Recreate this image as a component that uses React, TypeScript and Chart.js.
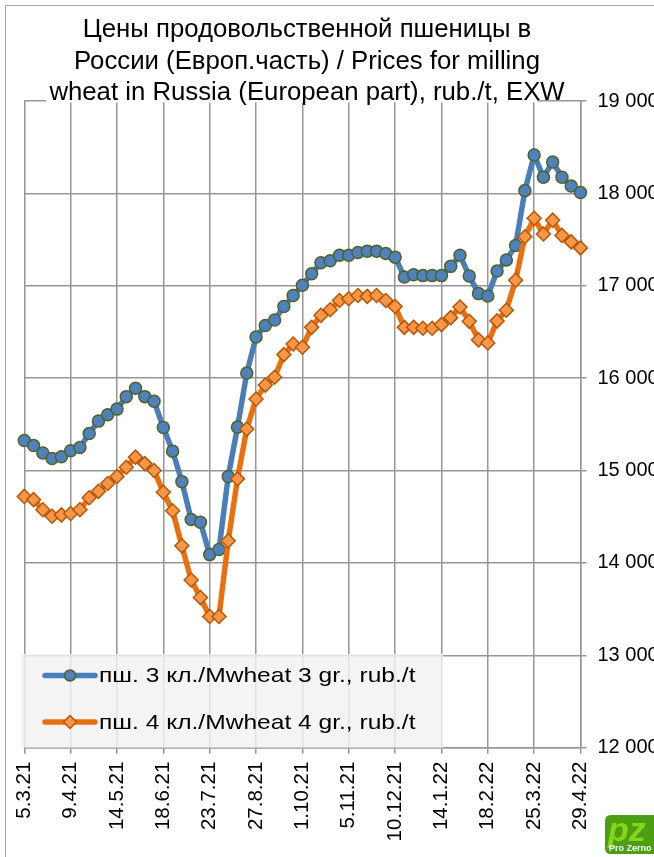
import React, { useEffect, useRef } from 'react';
import { Chart, registerables } from 'chart.js';

Chart.register(...registerables);

// ---- data ----
const categories: string[] = [
  '5.3.21', '12.3.21', '19.3.21', '26.3.21', '2.4.21', '9.4.21', '16.4.21', '23.4.21', '30.4.21', '7.5.21',
  '14.5.21', '21.5.21', '28.5.21', '4.6.21', '11.6.21', '18.6.21', '25.6.21', '2.7.21', '9.7.21', '16.7.21',
  '23.7.21', '30.7.21', '6.8.21', '13.8.21', '20.8.21', '27.8.21', '3.9.21', '10.9.21', '17.9.21', '24.9.21',
  '1.10.21', '8.10.21', '15.10.21', '22.10.21', '29.10.21', '5.11.21', '12.11.21', '19.11.21', '26.11.21', '3.12.21',
  '10.12.21', '17.12.21', '24.12.21', '31.12.21', '7.1.22', '14.1.22', '21.1.22', '28.1.22', '4.2.22', '11.2.22',
  '18.2.22', '25.2.22', '4.3.22', '11.3.22', '18.3.22', '25.3.22', '1.4.22', '8.4.22', '15.4.22', '22.4.22',
  '29.4.22',
];

const wheat3: number[] = [
  15325, 15270, 15190, 15130, 15150, 15215, 15250, 15400, 15535, 15605,
  15665, 15800, 15890, 15800, 15750, 15465, 15210, 14880, 14470, 14440,
  14090, 14145, 14935, 15470, 16055, 16445, 16570, 16630, 16775, 16895,
  17005, 17130, 17250, 17270, 17330, 17330, 17360, 17375, 17375, 17350,
  17310, 17095, 17120, 17110, 17110, 17110, 17210, 17330, 17105, 16915,
  16890, 17160, 17280, 17435, 18030, 18415, 18175, 18340, 18175, 18080,
  18010,
];

const wheat4: number[] = [
  14720, 14685, 14575, 14505, 14520, 14535, 14575, 14705, 14775, 14860,
  14935, 15035, 15145, 15075, 15000, 14765, 14565, 14185, 13815, 13625,
  13420, 13420, 14240, 14910, 15450, 15775, 15925, 16010, 16255, 16370,
  16335, 16550, 16680, 16740, 16840, 16860, 16895, 16885, 16895, 16840,
  16775, 16550, 16550, 16540, 16540, 16580, 16655, 16770, 16615, 16415,
  16380, 16620, 16735, 17060, 17530, 17730, 17560, 17710, 17545, 17475,
  17410,
];

const yMin = 12000;
const yMax = 19000;
const yStep = 1000;
const labelEvery = 5;

const titleLines: string[] = [
  'Цены продовольственной пшеницы в',
  'России (Европ.часть) / Prices for milling',
  'wheat in Russia (European part), rub./t, EXW',
];
const label3 = 'пш. 3 кл./Mwheat 3 gr., rub./t';
const label4 = 'пш. 4 кл./Mwheat 4 gr., rub./t';

// ---- styles ----
const FONT = '"Liberation Sans", Arial, sans-serif';
const GRID = '#969696';
const BLUE_LINE = '#4A7EBB';
const BLUE_FILL = '#4F81BD';
const BLUE_EDGE = '#4F6228';
const ORANGE_LINE = '#EA700E';
const ORANGE_FILL = '#F79646';
const ORANGE_EDGE = '#B65708';

const W = 654;
const H = 857;

function fmt(v: number): string {
  const s = String(Math.round(v));
  return s.replace(/\B(?=(\d{3})+(?!\d))/g, ' ');
}

function stretchedText(ctx: CanvasRenderingContext2D, text: string, x: number, y: number, sx: number, align: 'left' | 'center') {
  ctx.save();
  ctx.translate(x, y);
  ctx.scale(sx, 1);
  ctx.textAlign = align;
  ctx.fillText(text, 0, 0);
  ctx.restore();
}

const decorPlugin = {
  id: 'decor',
  beforeDraw(chart: any) {
    const ctx: CanvasRenderingContext2D = chart.ctx;
    ctx.save();
    ctx.fillStyle = '#ffffff';
    ctx.fillRect(0, 0, chart.width, chart.height);
    ctx.strokeStyle = '#a6a6a6';
    ctx.lineWidth = 1;
    ctx.strokeRect(5.5, 5.5, chart.width + 20, chart.height + 20);
    ctx.restore();
  },
  afterDraw(chart: any) {
    const ctx: CanvasRenderingContext2D = chart.ctx;
    const area = chart.chartArea;
    ctx.save();
    // title block (covers top gridline)
    ctx.fillStyle = '#ffffff';
    ctx.fillRect(46, 8, 491, area.top + 1.5 - 8);
    ctx.fillStyle = '#000000';
    ctx.font = `25px ${FONT}`;
    ctx.textBaseline = 'alphabetic';
    const baselines = [37, 68.5, 100];
    titleLines.forEach((t, i) => stretchedText(ctx, t, 307, baselines[i], 1.03, 'center'));

    // legend
    const lx = 21, ly = 654, lw = 422, lh = area.bottom - 654;
    ctx.fillStyle = 'rgba(242,242,242,0.82)';
    ctx.fillRect(lx, ly, lw, lh);
    const entries = [
      { y: 675.5, text: label3, line: BLUE_LINE, fill: BLUE_FILL, edge: BLUE_EDGE, diamond: false },
      { y: 722, text: label4, line: ORANGE_LINE, fill: ORANGE_FILL, edge: ORANGE_EDGE, diamond: true },
    ];
    entries.forEach((e) => {
      ctx.strokeStyle = e.line;
      ctx.lineWidth = 5.5;
      ctx.lineCap = 'round';
      ctx.beginPath();
      ctx.moveTo(45, e.y);
      ctx.lineTo(95, e.y);
      ctx.stroke();
      ctx.fillStyle = e.fill;
      ctx.strokeStyle = e.edge;
      ctx.lineWidth = 1.5;
      ctx.beginPath();
      if (e.diamond) {
        ctx.moveTo(70, e.y - 6.5);
        ctx.lineTo(76.5, e.y);
        ctx.lineTo(70, e.y + 6.5);
        ctx.lineTo(63.5, e.y);
        ctx.closePath();
      } else {
        ctx.arc(70, e.y, 5.5, 0, Math.PI * 2);
      }
      ctx.fill();
      ctx.stroke();
      ctx.fillStyle = '#000000';
      ctx.font = `21px ${FONT}`;
      ctx.textBaseline = 'middle';
      stretchedText(ctx, e.text, 99, e.y + 1, 1.17, 'left');
    });

    // logo
    const gx = 605, gy = 815, gw = 52, gh = 39;
    ctx.fillStyle = '#4c9e12';
    ctx.beginPath();
    ctx.moveTo(gx + 6, gy);
    ctx.lineTo(gx + gw, gy);
    ctx.lineTo(gx + gw, gy + gh);
    ctx.lineTo(gx + 6, gy + gh);
    ctx.quadraticCurveTo(gx, gy + gh, gx, gy + gh - 6);
    ctx.lineTo(gx, gy + 6);
    ctx.quadraticCurveTo(gx, gy, gx + 6, gy);
    ctx.fill();
    ctx.fillStyle = '#86d41c';
    ctx.font = `bold italic 34px ${FONT}`;
    ctx.textBaseline = 'alphabetic';
    ctx.textAlign = 'left';
    ctx.fillText('pz', gx + 3, gy + 26);
    ctx.fillStyle = '#ffffff';
    ctx.font = `bold 9px ${FONT}`;
    ctx.fillText('Pro Zerno', gx + 4, gy + 36);
    ctx.restore();
  },
};

export default function App() {
  const ref = useRef<HTMLCanvasElement | null>(null);

  useEffect(() => {
    document.body.style.margin = '0';
    const canvas = ref.current;
    if (!canvas) return;
    const chart = new Chart(canvas, {
      type: 'line',
      data: {
        labels: categories,
        datasets: [
          {
            label: label3,
            data: wheat3,
            order: 2,
            borderColor: BLUE_LINE,
            borderWidth: 5.5,
            tension: 0,
            pointStyle: 'circle',
            pointRadius: 6,
            pointBackgroundColor: BLUE_FILL,
            pointBorderColor: BLUE_EDGE,
            pointBorderWidth: 1.5,
          },
          {
            label: label4,
            data: wheat4,
            order: 1,
            borderColor: ORANGE_LINE,
            borderWidth: 5.5,
            tension: 0,
            pointStyle: 'rectRot',
            pointRadius: 7,
            pointBackgroundColor: ORANGE_FILL,
            pointBorderColor: ORANGE_EDGE,
            pointBorderWidth: 1.5,
          },
        ],
      },
      options: {
        responsive: false,
        animation: false,
        devicePixelRatio: 1,
        layout: { padding: { left: 24.3, top: 101, right: 0, bottom: 0 } },
        plugins: {
          legend: { display: false },
          title: { display: false },
          tooltip: { enabled: false },
        },
        scales: {
          x: {
            type: 'category',
            offset: false,
            grid: {
              color: (c: any) => (c.index % labelEvery === 0 ? GRID : 'rgba(0,0,0,0)'),
              lineWidth: 1.5,
              tickLength: 6,
            },
            border: { color: GRID, width: 1.5 },
            ticks: {
              autoSkip: false,
              maxRotation: 90,
              minRotation: 90,
              padding: 8,
              color: '#000000',
              font: { family: FONT, size: 20.5 },
              callback: (_v: any, i: number) => (i % labelEvery === 0 ? categories[i] : ''),
            },
            afterFit: (s: any) => {
              s.height = H - 747.7;
            },
          },
          y: {
            position: 'right',
            min: yMin,
            max: yMax,
            grid: { color: GRID, lineWidth: 1.5, tickLength: 6 },
            border: { color: GRID, width: 1.5 },
            ticks: {
              stepSize: yStep,
              padding: 11,
              color: '#000000',
              font: { family: FONT, size: 20 },
              callback: (v: any) => fmt(Number(v)),
            },
            afterFit: (s: any) => {
              s.width = W - 580.5;
            },
          },
        },
      },
      plugins: [decorPlugin],
    });
    return () => chart.destroy();
  }, []);

  return (
    <div style={{ width: W, height: H }}>
      <canvas ref={ref} width={W} height={H} style={{ display: 'block', width: W, height: H }} />
    </div>
  );
}
